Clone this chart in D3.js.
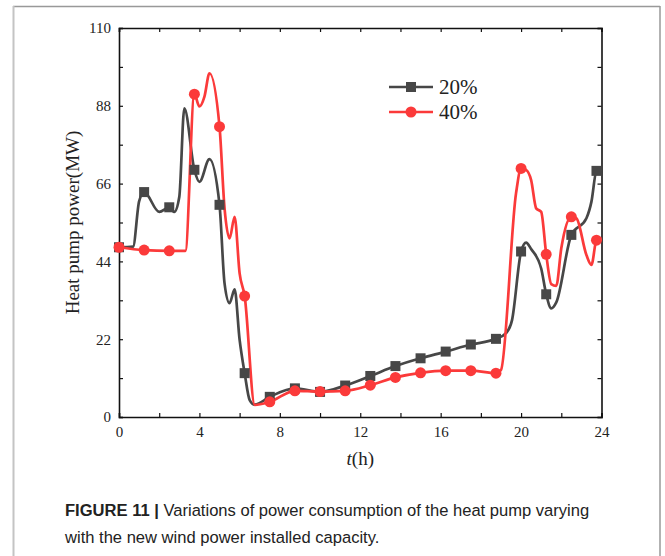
<!DOCTYPE html>
<html>
<head>
<meta charset="utf-8">
<script src="https://cdn.jsdelivr.net/npm/d3@7"></script>
<style>
  body { margin: 0; background: #fff; }
  #chart { width: 665px; height: 556px; }
  .axis text { font-family: "Liberation Serif", "Times New Roman", serif; font-size: 15px; fill: #222; }
  .caption { font-family: "Liberation Sans Narrow", "Arial Narrow", "Liberation Sans", sans-serif; font-size: 17px; fill: #222; }
</style>
</head>
<body>
<div id="chart"></div>
<script>
// data (hour, MW)
const hours20 = [0, 0.7, 1.0, 1.25, 2.0, 2.5, 2.75, 3.0, 3.25, 3.75, 4.0, 4.5, 5.0, 5.25, 5.5, 5.75, 6.0, 6.25, 6.5, 6.75, 7.5, 8.75, 10, 11.25, 12.5, 13.75, 15, 16.25, 17.5, 18.75, 19.25, 19.55, 20, 20.25, 20.5, 21.0, 21.25, 21.5, 21.75, 22.5, 23.25, 23.5, 23.75, 24];
const power20 = [48, 48.2, 61, 63.6, 58, 59.3, 58, 62.3, 87.3, 69.9, 66.5, 72.9, 60, 37.8, 32.2, 36.1, 21.8, 12.4, 4.8, 3.5, 5.7, 8.1, 7.1, 8.9, 11.6, 14.4, 16.6, 18.5, 20.5, 22.1, 23.7, 27.4, 46.8, 49.3, 47.5, 42, 34.7, 30.7, 32.4, 51.5, 56.2, 60.9, 69.6, 70];
const hours40 = [0, 1.25, 2.5, 3.3, 3.75, 4.0, 4.25, 4.5, 5.0, 5.25, 5.5, 5.75, 6.0, 6.25, 6.75, 7.5, 8.75, 10, 11.25, 12.5, 13.75, 15, 16.25, 17.5, 18.75, 19.0, 19.75, 20, 20.25, 20.5, 20.75, 21.0, 21.25, 21.5, 21.75, 22.0, 22.5, 22.75, 23.25, 23.5, 23.75, 24];
const power40 = [48, 47.2, 47, 47, 91.3, 87.8, 90.6, 97.2, 82.1, 59, 50.5, 56.6, 40.6, 34.2, 3.4, 4.3, 7.4, 7.2, 7.4, 9.0, 11.2, 12.5, 13.1, 13.1, 12.4, 13.3, 63.3, 70.3, 69.9, 67, 59, 58, 46, 37.6, 37.1, 47.7, 56.6, 56.2, 45.8, 43, 50, 50.5];
const markerHours = [0, 1.25, 2.5, 3.75, 5, 6.25, 7.5, 8.75, 10, 11.25, 12.5, 13.75, 15, 16.25, 17.5, 18.75, 20, 21.25, 22.5, 23.75];
const xTicks = [0, 4, 8, 12, 16, 20, 24];
const yTicks = [0, 22, 44, 66, 88, 110];
const seriesNames = ["20%", "40%"];
const colors = ["#474747", "#fb3a3a"];

const svg = d3.select("#chart").append("svg").attr("width", 665).attr("height", 556);

// figure frame
svg.append("line").attr("x1", 13).attr("x2", 660).attr("y1", 6.5).attr("y2", 6.5).attr("stroke", "#999").attr("stroke-width", 1.5);
svg.append("line").attr("x1", 13.5).attr("x2", 13.5).attr("y1", 6).attr("y2", 556).attr("stroke", "#c4c4c4").attr("stroke-width", 2);
svg.append("line").attr("x1", 660).attr("x2", 660).attr("y1", 6).attr("y2", 556).attr("stroke", "#999").attr("stroke-width", 1.5);

const x = d3.scaleLinear().domain([0, 24]).range([119, 601.5]);
const y = d3.scaleLinear().domain([0, 110]).range([417, 28]);

const minorX = d3.range(0, 25, 2);
const minorY = d3.range(0, 111, 11);

function axisLayer(axis, transform) {
  return svg.append("g").attr("class", "axis").attr("transform", transform).call(axis);
}

// bottom + left with labels, top + right without
const axB = axisLayer(d3.axisBottom(x).tickValues(minorX).tickSize(-4).tickPadding(9).tickFormat(d => xTicks.includes(d) ? d : ""), `translate(0,${y(0)})`);
const axL = axisLayer(d3.axisLeft(y).tickValues(minorY).tickSize(-4).tickPadding(8).tickFormat(d => yTicks.includes(d) ? d : ""), `translate(${x(0)},0)`);
const axT = axisLayer(d3.axisTop(x).tickValues(minorX).tickSize(-4).tickFormat(""), `translate(0,${y(110)})`);
const axR = axisLayer(d3.axisRight(y).tickValues(minorY).tickSize(-4).tickFormat(""), `translate(${x(24)},0)`);
[axB, axL, axT, axR].forEach(g => {
  g.select(".domain").attr("stroke", "#111").attr("stroke-width", 1.6);
  g.selectAll(".tick line").attr("stroke", "#111").attr("stroke-width", 1.2);
});

// axis titles
svg.append("text")
  .attr("transform", `translate(79,${(y(0) + y(110)) / 2}) rotate(-90)`)
  .attr("text-anchor", "middle")
  .style("font-family", "'Liberation Serif', serif").style("font-size", "19px").attr("fill", "#222")
  .text("Heat pump power(MW)");
const xt = svg.append("text")
  .attr("x", (x(0) + x(24)) / 2).attr("y", 465)
  .attr("text-anchor", "middle")
  .style("font-family", "'Liberation Serif', serif").style("font-size", "19px").attr("fill", "#222");
xt.append("tspan").style("font-style", "italic").text("t");
xt.append("tspan").text("(h)");

// lines
const line = d3.line().x(d => x(d[0])).y(d => y(d[1])).curve(d3.curveMonotoneX);
const series = [d3.zip(hours20, power20), d3.zip(hours40, power40)];

series.forEach((pts, i) => {
  svg.append("path").datum(pts)
    .attr("fill", "none").attr("stroke", colors[i]).attr("stroke-width", 2.7)
    .attr("stroke-linejoin", "round").attr("d", line);
});

// markers
const mk = series.map(pts => pts.filter(p => markerHours.includes(p[0])));
svg.append("g").selectAll("rect").data(mk[0]).join("rect")
  .attr("x", d => x(d[0]) - 5).attr("y", d => y(d[1]) - 5)
  .attr("width", 10).attr("height", 10).attr("fill", colors[0]);
svg.append("g").selectAll("circle").data(mk[1]).join("circle")
  .attr("cx", d => x(d[0])).attr("cy", d => y(d[1])).attr("r", 5.5).attr("fill", colors[1]);

// legend
const legend = svg.append("g").attr("transform", "translate(389,87)");
seriesNames.forEach((name, i) => {
  const g = legend.append("g").attr("transform", `translate(0,${i * 25})`);
  g.append("line").attr("x1", 0).attr("x2", 44).attr("stroke", colors[i]).attr("stroke-width", 2.7);
  if (i === 0) g.append("rect").attr("x", 17).attr("y", -5).attr("width", 10).attr("height", 10).attr("fill", colors[i]);
  else g.append("circle").attr("cx", 22).attr("r", 5.5).attr("fill", colors[i]);
  g.append("text").attr("x", 50).attr("y", 7)
    .style("font-family", "'Liberation Serif', serif").style("font-size", "21px").attr("fill", "#222")
    .text(name);
});

// caption (narrow face is not installed, so squeeze a bit)
const cap = svg.append("g").attr("transform", "translate(65,0) scale(0.975,1)");
const cap1 = cap.append("text").attr("class", "caption").attr("x", 0).attr("y", 516);
cap1.append("tspan").style("font-weight", "bold").text("FIGURE 11 | ");
cap1.append("tspan").text("Variations of power consumption of the heat pump varying");
cap.append("text").attr("class", "caption").attr("x", 0).attr("y", 543)
  .text("with the new wind power installed capacity.");
</script>
</body>
</html>
